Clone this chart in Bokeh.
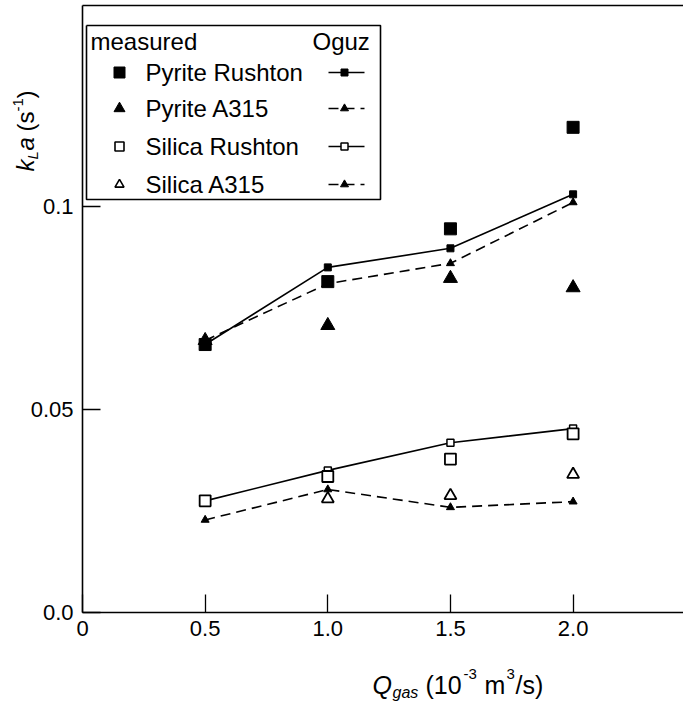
from bokeh.plotting import figure
from bokeh.models import Range1d, FixedTicker, Label, LinearAxis
from bokeh.embed import file_html
from bokeh.resources import INLINE
import math

# ---------------- data ----------------
q_gas = [0.5, 1.0, 1.5, 2.0]
meas_pyrite_rushton = [0.066, 0.0815, 0.0945, 0.1195]
meas_pyrite_a315 = [0.067, 0.0707, 0.0823, 0.0800]
meas_silica_rushton = [0.0275, 0.0335, 0.0378, 0.0440]
q_silica_a315 = [1.0, 1.5, 2.0]
meas_silica_a315 = [0.0280, 0.0288, 0.0340]
oguz_pyrite_rushton = [0.0660, 0.0850, 0.0897, 0.1030]
oguz_pyrite_a315 = [0.0670, 0.0810, 0.0860, 0.1010]
oguz_silica_rushton = [0.0275, 0.0350, 0.0418, 0.0453]
oguz_silica_a315 = [0.0228, 0.0303, 0.0259, 0.0273]

x_ticks = [0, 0.5, 1.0, 1.5, 2.0]
x_tick_labels = ["0", "0.5", "1.0", "1.5", "2.0"]
y_ticks = [0, 0.05, 0.1]
y_tick_labels = ["0.0", "0.05", "0.1"]
legend_names = ["Pyrite Rushton", "Pyrite A315", "Silica Rushton", "Silica A315"]

# ---------------- layout (pixel geometry of the axes box) ----------------
W, H = 683, 701
AX_L, AX_T, AX_B = 82, 5, 612     # left axis x, top line y, bottom axis y
PX_PER_X = 245.3                   # pixels per unit of Q
PX_PER_Y = 4060.0                  # pixels per unit of kLa


def dx(px):
    return (px - AX_L) / PX_PER_X


def dy(py):
    return (AX_B - py) / PX_PER_Y


X_END = dx(W)
Y_TOP = dy(AX_T)

FONT = "Liberation Sans"

p = figure(width=W, height=H, output_backend="svg", toolbar_location=None,
           x_range=Range1d(dx(0), dx(W)), y_range=Range1d(dy(H), dy(0)),
           x_axis_type=None, y_axis_type=None,
           min_border=0, min_border_left=0, min_border_right=0,
           min_border_top=0, min_border_bottom=0)
p.outline_line_color = None
p.grid.visible = False
p.background_fill_color = "white"
p.border_fill_color = "white"

xaxis = LinearAxis(fixed_location=0, bounds=(0, X_END))
yaxis = LinearAxis(fixed_location=0, bounds=(0, Y_TOP))
topaxis = LinearAxis(fixed_location=Y_TOP, bounds=(0, X_END),
                     ticker=FixedTicker(ticks=[]), major_label_text_font_size="0px")
p.add_layout(xaxis, "below")
p.add_layout(yaxis, "left")
p.add_layout(topaxis, "above")

for ax in (xaxis, yaxis, topaxis):
    ax.axis_line_color = "black"
    ax.axis_line_width = 1.6
    ax.major_tick_in = 18
    ax.major_tick_out = 0
    ax.major_tick_line_color = "black"
    ax.major_tick_line_width = 1.3
    ax.minor_tick_line_color = None
    ax.major_label_text_font = FONT
    ax.major_label_text_font_size = "22px"
    ax.major_label_text_color = "black"
topaxis.major_tick_line_color = None
topaxis.major_label_text_font_size = "0px"

xaxis.ticker = FixedTicker(ticks=x_ticks)
xaxis.major_label_overrides = {t: l for t, l in zip(x_ticks, x_tick_labels)}
xaxis.major_label_standoff = 8
yaxis.ticker = FixedTicker(ticks=y_ticks)
yaxis.major_label_overrides = {t: l for t, l in zip(y_ticks, y_tick_labels)}
yaxis.major_label_standoff = 9

# ---------------- data marks ----------------
p.line(q_gas, oguz_pyrite_rushton, line_color="black", line_width=1.6)
p.line(q_gas, oguz_pyrite_a315, line_color="black", line_width=1.6, line_dash="10 6")
p.line(q_gas, oguz_silica_rushton, line_color="black", line_width=1.6)
p.line(q_gas, oguz_silica_a315, line_color="black", line_width=1.6, line_dash="10 6")

p.scatter(q_gas, oguz_pyrite_rushton, marker="square", size=7, color="black")
p.scatter(q_gas, oguz_pyrite_a315, marker="triangle", size=8, color="black")
p.scatter(q_gas, oguz_silica_rushton, marker="square", size=7,
          fill_color="white", line_color="black", line_width=1.5)
p.scatter(q_gas, oguz_silica_a315, marker="triangle", size=8, color="black")

p.scatter(q_gas, meas_pyrite_rushton, marker="square", size=12, color="black")
p.scatter(q_gas, meas_pyrite_a315, marker="triangle", size=14, color="black")
p.scatter(q_gas, meas_silica_rushton, marker="square", size=11,
          fill_color="white", line_color="black", line_width=1.8)
p.scatter(q_silica_a315, meas_silica_a315, marker="triangle", size=12,
          fill_color="white", line_color="black", line_width=1.8)

# ---------------- legend ----------------
LB_L, LB_R, LB_T, LB_B = 86, 380, 25, 199
p.line([dx(LB_L), dx(LB_R), dx(LB_R), dx(LB_L), dx(LB_L)],
       [dy(LB_T), dy(LB_T), dy(LB_B), dy(LB_B), dy(LB_T)],
       line_color="black", line_width=1.6)


def lab(text, px, py, size="24px", style="normal", align="left", baseline="middle",
        angle=0.0):
    p.add_layout(Label(x=dx(px), y=dy(py), text=text, text_font=FONT,
                       text_font_size=size, text_font_style=style,
                       text_align=align, text_baseline=baseline,
                       text_color="black", angle=angle, angle_units="rad"))


lab("measured", 90, 41)
lab("Oguz", 312, 41)
rows_y = [72, 108, 146, 184]
meas_styles = [
    dict(marker="square", size=11, fill_color="black", line_color="black"),
    dict(marker="triangle", size=11, fill_color="black", line_color="black"),
    dict(marker="square", size=9, fill_color="white", line_color="black", line_width=1.6),
    dict(marker="triangle", size=9, fill_color="white", line_color="black", line_width=1.6),
]
oguz_styles = [
    dict(marker="square", size=7, fill_color="black", line_color="black"),
    dict(marker="triangle", size=8, fill_color="black", line_color="black"),
    dict(marker="square", size=7, fill_color="white", line_color="black", line_width=1.5),
    dict(marker="triangle", size=8, fill_color="black", line_color="black"),
]
oguz_dash = ["solid", "10 6", "solid", "10 6"]
for name, ry, ms, os_, dash in zip(legend_names, rows_y, meas_styles, oguz_styles, oguz_dash):
    p.scatter([dx(119)], [dy(ry)], **ms)
    lab(name, 145, ry)
    p.line([dx(328), dx(364)], [dy(ry), dy(ry)], line_color="black",
           line_width=1.5, line_dash=dash)
    p.scatter([dx(344)], [dy(ry)], **os_)

# ---------------- axis titles ----------------
# x title: Q_gas (10^-3 m^3/s)
lab("Q", 372, 684, size="25px", style="italic")
lab("gas", 392, 692, size="16px", style="italic")
lab("(10", 425, 684, size="25px")
lab("-3", 463, 673, size="15px")
lab("m", 484, 684, size="25px")
lab("3", 506, 673, size="15px")
lab("/s)", 515, 684, size="25px")

# y title: k_L a (s^-1), rotated
A = math.pi / 2
lab("k", 25, 171, size="24px", style="italic", angle=A)
lab("L", 32, 159, size="15px", style="italic", angle=A)
lab("a", 25, 150, size="24px", style="italic", angle=A)
lab("(s", 25, 131, size="24px", angle=A)
lab("-1", 17, 111, size="15px", angle=A)
lab(")", 25, 98, size="24px", angle=A)

open("out.html", "w").write(file_html(p, INLINE))
